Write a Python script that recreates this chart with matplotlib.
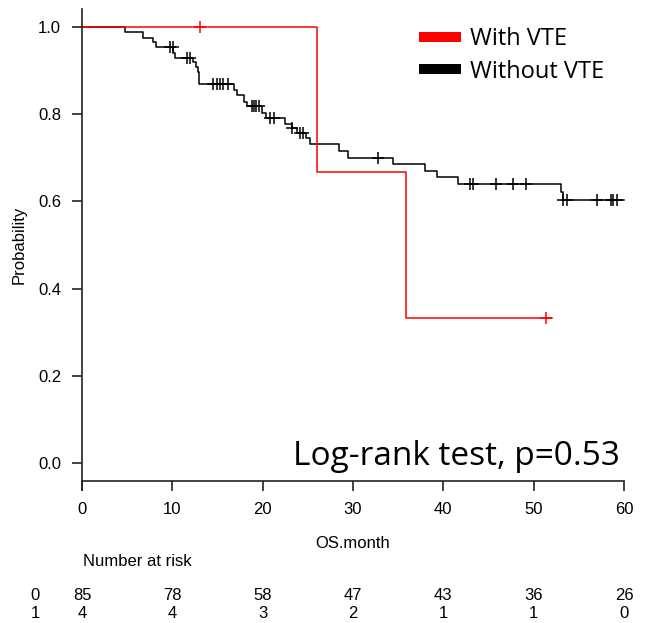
import numpy as np
import matplotlib.pyplot as plt
from matplotlib.lines import Line2D

# Kaplan-Meier curves (months, survival after each event)
vte_times = [26.0, 35.9]
vte_surv = [0.667, 0.333]
vte_end = 52.0
vte_censor = [13.1, 51.4]

novte_times = [4.76, 6.79, 7.90, 8.19, 10.1, 10.3, 12.3, 12.6, 12.8, 13.0,
               16.8, 17.2, 17.9, 18.3, 19.9, 20.4, 22.5, 23.2, 23.8, 24.8,
               25.2, 28.4, 29.4, 34.4, 38.0, 39.3, 41.6, 53.0, 53.2]
novte_surv = [0.988, 0.975, 0.965, 0.953, 0.941, 0.930, 0.919, 0.908, 0.896, 0.869,
              0.856, 0.844, 0.829, 0.819, 0.802, 0.791, 0.777, 0.768, 0.758, 0.745,
              0.731, 0.716, 0.699, 0.686, 0.670, 0.657, 0.640, 0.622, 0.603]
novte_end = 60.0
novte_censor = [9.74, 10.05, 11.66, 11.96, 14.54, 14.91, 15.27, 15.64, 16.19,
                18.8, 19.0, 19.3, 19.6, 20.8, 21.2, 23.3, 24.1, 24.5, 32.8,
                43.0, 43.3, 45.8, 47.7, 49.2, 53.3, 53.7, 57.0, 58.6, 58.8, 59.2]

risk_times = [0, 10, 20, 30, 40, 50, 60]
risk_novte = [85, 78, 58, 47, 43, 36, 26]
risk_vte = [4, 4, 3, 2, 1, 1, 0]

plt.rcParams['font.family'] = ['Liberation Sans', 'DejaVu Sans']
FS = 12

W, H = 646, 623
fig = plt.figure(figsize=(W / 100, H / 100), dpi=100)
ax = fig.add_axes([82 / W, 133 / H, 544 / W, 481 / H])


def km_arrays(times, surv, end):
    t = np.r_[0, times, end]
    s = np.r_[1, surv, surv[-1]]
    return t, s


def level_at(t, s, x):
    idx = np.searchsorted(t, x, side='right') - 1
    return s[idx]


for times, surv, end, cens, col in [
        (novte_times, novte_surv, novte_end, novte_censor, 'black'),
        (vte_times, vte_surv, vte_end, vte_censor, 'red')]:
    t, s = km_arrays(times, surv, end)
    ax.step(t, s, where='post', color=col, lw=1.1)
    ax.plot(cens, level_at(t, s, np.array(cens)), '+', color=col,
            markersize=8, markeredgewidth=1.1)

ax.set_xlim(0, 60.22)
ax.set_ylim(-0.0619, 1.0413)
ax.spines['top'].set_visible(False)
ax.spines['right'].set_visible(False)
ax.spines['bottom'].set_position(('data', -0.0413))
ax.spines['bottom'].set_bounds(0, 60)
for sp in ['left', 'bottom']:
    ax.spines[sp].set_linewidth(1.2)
    ax.spines[sp].set_color('#222222')

ax.set_xticks(risk_times)
ax.set_yticks([0, 0.2, 0.4, 0.6, 0.8, 1.0])
ax.set_yticklabels(['0.0', '0.2', '0.4', '0.6', '0.8', '1.0'])
ax.tick_params(direction='out', length=7, width=1.2, color='#222222',
               labelsize=FS, pad=8)
ax.set_ylabel('Probability', fontsize=FS)
ax.yaxis.set_label_coords(-0.101, (490 - 245) / 481)
fig.text(353 / W, 1 - 543 / H, 'OS.month', ha='center', va='center', fontsize=FS)

fig.text(83 / W, 1 - 562 / H, 'Number at risk', ha='left', va='center', fontsize=FS)
x_fig = [(82 + m * 9.033) / W for m in risk_times]
fig.text(35 / W, 1 - 595 / H, '0', ha='center', va='center', fontsize=FS)
fig.text(35 / W, 1 - 613 / H, '1', ha='center', va='center', fontsize=FS)
for xf, a, b in zip(x_fig, risk_novte, risk_vte):
    fig.text(xf, 1 - 595 / H, str(a), ha='center', va='center', fontsize=FS)
    fig.text(xf, 1 - 613 / H, str(b), ha='center', va='center', fontsize=FS)

handles = [Line2D([], [], color='red', lw=7.2, solid_capstyle='butt'),
           Line2D([], [], color='black', lw=7.2, solid_capstyle='butt')]
fig.legend(handles, ['With VTE', 'Without VTE'], loc='upper left',
           bbox_to_anchor=(419 / W, 1 - 27 / H), frameon=False,
           prop={'family': 'Open Sans', 'size': 17},
           handlelength=1.78, handletextpad=0.4, labelspacing=0.37,
           borderpad=0, borderaxespad=0)

ax.text(23.36, -0.005, 'Log-rank test, p=0.53', fontsize=24,
        family='Open Sans', ha='left', va='baseline')

fig.savefig('out.png', dpi=100)
